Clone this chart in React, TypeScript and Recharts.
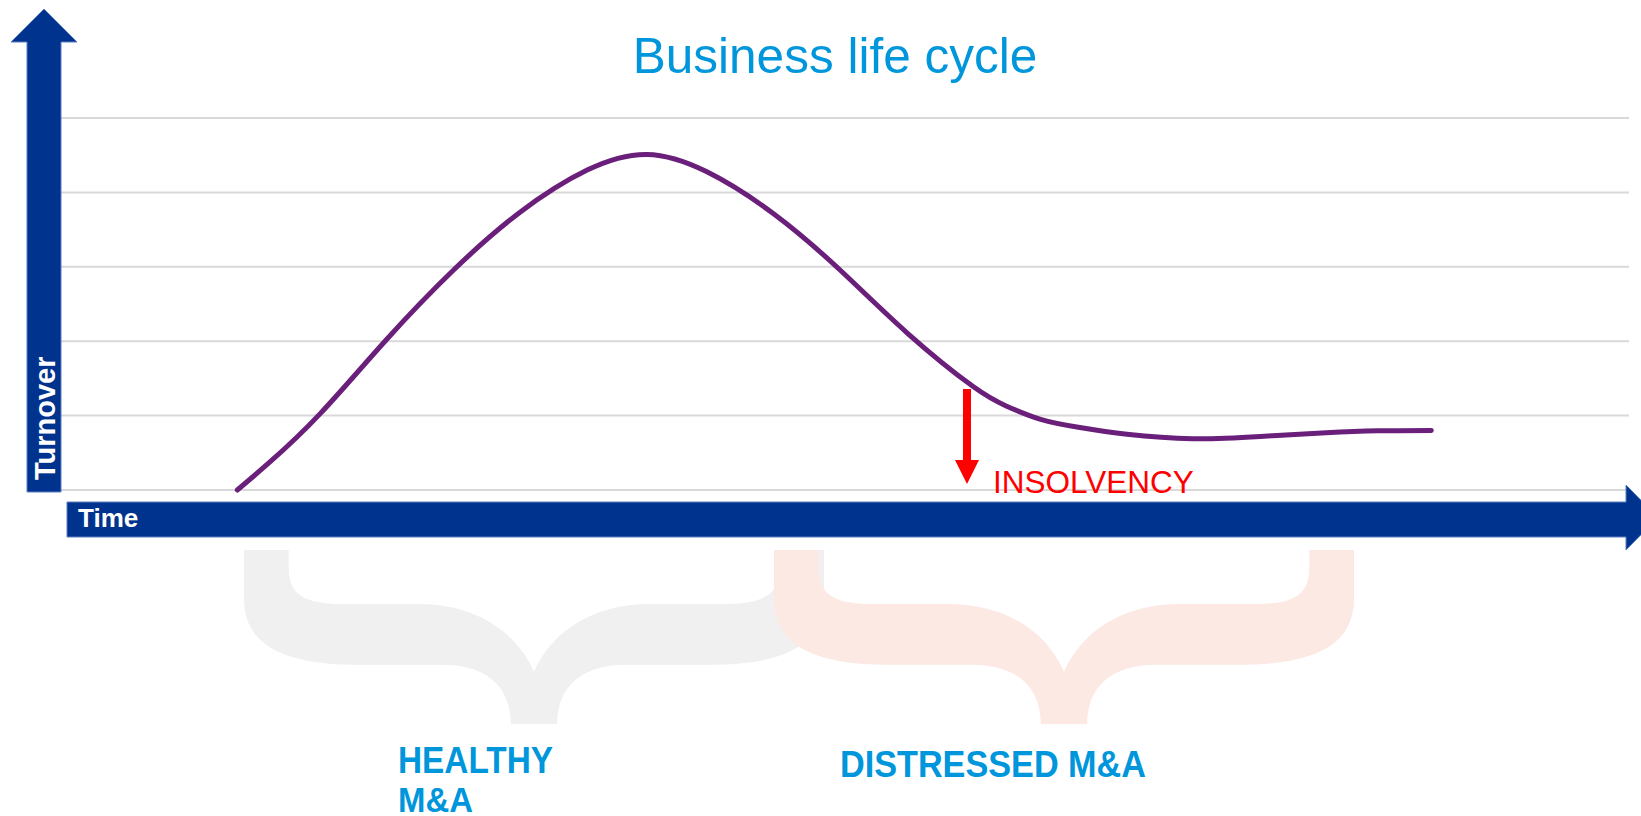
import React from 'react';
import { LineChart, Line, XAxis, YAxis, CartesianGrid } from 'recharts';

// ---- data ----
const time = [11.3, 13.4, 16.6, 20.8, 25.1, 29.3, 33.6, 37.4, 41.2, 45.5, 49.7, 54.0, 58.2, 60.3, 62.5, 65.0, 68.0, 72.2, 76.5, 80.7, 84.0, 87.4];
const turnover = [0.0, 0.38, 1.03, 2.02, 2.96, 3.73, 4.30, 4.51, 4.28, 3.71, 2.96, 2.11, 1.39, 1.13, 0.95, 0.84, 0.75, 0.69, 0.72, 0.77, 0.795, 0.80];
const yTicks = [0, 1, 2, 3, 4, 5];
const xDomain = [0, 100];
const title = 'Business life cycle';
const yLabel = 'Turnover';
const xLabel = 'Time';
const eventLabel = 'INSOLVENCY';
const phase1Lines = ['HEALTHY', 'M&A'];
const phase2Label = 'DISTRESSED M&A';

const data = time.map((t, i) => ({ time: t, turnover: turnover[i] }));

const FONT = '"Liberation Sans", Arial, Helvetica, sans-serif';
const NAVY = '#00338D';
const BLUE = '#0096DB';

// normalized brace outline (u horizontal 0..1, v vertical 0..1)
const a = 0.077;
const braceCmds: (string | number)[][] = [
  ['M', 0, 0], ['L', a, 0], ['L', a, 0.1],
  ['C', a, 0.25, 0.1, 0.31, 0.17, 0.31],
  ['L', 0.3, 0.31],
  ['C', 0.4, 0.31, 0.47, 0.47, 0.5, 0.7],
  ['C', 0.53, 0.47, 0.6, 0.31, 0.7, 0.31],
  ['L', 0.83, 0.31],
  ['C', 0.9, 0.31, 1 - a, 0.25, 1 - a, 0.1],
  ['L', 1 - a, 0], ['L', 1, 0], ['L', 1, 0.28],
  ['C', 1, 0.55, 0.93, 0.66, 0.8, 0.66],
  ['L', 0.66, 0.66],
  ['C', 0.58, 0.66, 0.54, 0.79, 0.54, 1],
  ['L', 0.46, 1],
  ['C', 0.46, 0.79, 0.42, 0.66, 0.34, 0.66],
  ['L', 0.2, 0.66],
  ['C', 0.07, 0.66, 0, 0.55, 0, 0.28],
  ['Z'],
];

function bracePath(x0: number, y0: number, W: number, H: number) {
  return braceCmds
    .map((c) => {
      const [cmd, ...nums] = c as [string, ...number[]];
      const pts: string[] = [];
      for (let i = 0; i < nums.length; i += 2) {
        pts.push(`${(x0 + nums[i] * W).toFixed(1)} ${(y0 + nums[i + 1] * H).toFixed(1)}`);
      }
      return `${cmd} ${pts.join(' ')}`;
    })
    .join(' ');
}

export default function App() {
  return (
    <div style={{ position: 'absolute', left: 0, top: 0, width: 1641, height: 816, overflow: 'hidden', background: '#fff' }}>
      <LineChart width={1641} height={816} data={data} margin={{ top: 118, right: 12, bottom: 326, left: 60 }}>
        <CartesianGrid horizontal vertical={false} stroke="#d9d9d9" strokeWidth={2} />
        <XAxis dataKey="time" type="number" domain={xDomain} hide />
        <YAxis type="number" domain={[0, 5]} ticks={yTicks} hide width={0} />
        <Line
          dataKey="turnover"
          type="natural"
          stroke="#6A1F7A"
          strokeWidth={5}
          dot={false}
          strokeLinecap="round"
          isAnimationActive={false}
        />
      </LineChart>
      <svg width={1641} height={816} style={{ position: 'absolute', left: 0, top: 0, pointerEvents: 'none' }}>
        {/* braces */}
        <path d={bracePath(244, 550, 580, 174)} fill="#F0F0F0" />
        <path d={bracePath(774, 550, 580, 174)} fill="#FDE9E4" />
        {/* title */}
        <text x={835} y={73} textAnchor="middle" fontFamily={FONT} fontSize={49.5} fill={BLUE}>{title}</text>
        {/* vertical arrow */}
        <path d="M27 492 L27 42 L11 42 L44 9 L77 42 L61 42 L61 492 Z" fill={NAVY} stroke="#5d7fc0" strokeWidth={1} />
        <text transform="translate(55,480) rotate(-90)" fontFamily={FONT} fontSize={29} fontWeight="bold" fill="#fff">{yLabel}</text>
        {/* horizontal arrow */}
        <path d="M67 502 L1626 502 L1626 485 L1658 517.5 L1626 550 L1626 537 L67 537 Z" fill={NAVY} stroke="#5d7fc0" strokeWidth={1} />
        <text x={78} y={527} fontFamily={FONT} fontSize={26} fontWeight="bold" fill="#fff">{xLabel}</text>
        {/* insolvency arrow */}
        <path d="M963 389 L971 389 L971 460 L979 460 L967 484 L955 460 L963 460 Z" fill="#FF0000" />
        <text x={993} y={493} fontFamily={FONT} fontSize={31.5} fill="#FF0000">{eventLabel}</text>
        {/* phase labels */}
        <text x={398} y={773} fontFamily={FONT} fontSize={37} fontWeight="bold" fill={BLUE} textLength={155} lengthAdjust="spacingAndGlyphs">{phase1Lines[0]}</text>
        <text x={398} y={812} fontFamily={FONT} fontSize={35} fontWeight="bold" fill={BLUE} textLength={75} lengthAdjust="spacingAndGlyphs">{phase1Lines[1]}</text>
        <text x={840} y={777} fontFamily={FONT} fontSize={37} fontWeight="bold" fill={BLUE} textLength={306} lengthAdjust="spacingAndGlyphs">{phase2Label}</text>
      </svg>
    </div>
  );
}
